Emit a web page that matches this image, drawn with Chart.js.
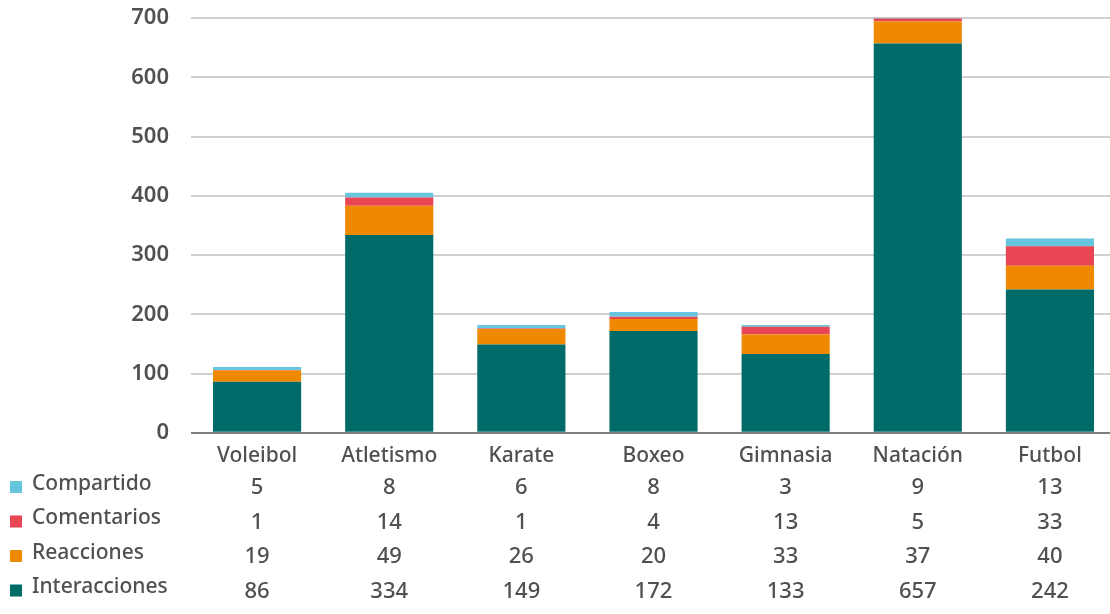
<!DOCTYPE html>
<html>
<head>
<meta charset="utf-8">
<script src="https://cdn.jsdelivr.net/npm/chart.js@4/dist/chart.umd.min.js"></script>
<style>
  html, body { margin: 0; padding: 0; background: #fff; overflow: hidden; }
  #wrap { width: 1116px; height: 614px; }
</style>
</head>
<body>
<div id="wrap"><canvas id="myChart"></canvas></div>
<script>
const deportes = ['Voleibol', 'Atletismo', 'Karate', 'Boxeo', 'Gimnasia', 'Natación', 'Futbol'];
const interacciones = [86, 334, 149, 172, 133, 657, 242];
const reacciones = [19, 49, 26, 20, 33, 37, 40];
const comentarios = [1, 14, 1, 4, 13, 5, 33];
const compartido = [5, 8, 6, 8, 3, 9, 13];
const yTicks = [0, 100, 200, 300, 400, 500, 600, 700];

const gris = '#505050';
const fuente = '"Noto Sans", sans-serif';

const series = [
  { label: 'Interacciones', data: interacciones, color: '#006b68' },
  { label: 'Reacciones', data: reacciones, color: '#ef8a00' },
  { label: 'Comentarios', data: comentarios, color: '#e84555' },
  { label: 'Compartido', data: compartido, color: '#66c6dd' }
];

// tabla de datos debajo del eje, filas de arriba hacia abajo
const filasTabla = [series[3], series[2], series[1], series[0]];

const tablaPlugin = {
  id: 'tablaDatos',
  afterDraw(chart) {
    const ctx = chart.ctx;
    const x = chart.scales.x;
    const top = 487;
    const paso = 34.5;
    ctx.save();
    ctx.textBaseline = 'middle';
    filasTabla.forEach((s, i) => {
      const y = top + i * paso;
      ctx.fillStyle = s.color;
      ctx.fillRect(10, y - 6, 12, 12);
      ctx.fillStyle = gris;
      ctx.font = '500 21px ' + fuente;
      ctx.textAlign = 'left';
      ctx.fillText(s.label, 32, y - 3);
      ctx.font = '500 22px ' + fuente;
      ctx.textAlign = 'center';
      s.data.forEach((v, j) => {
        ctx.fillText(String(v), x.getPixelForValue(j), y + 1);
      });
    });
    ctx.restore();
  }
};

new Chart(document.getElementById('myChart'), {
  type: 'bar',
  data: {
    labels: deportes,
    datasets: series.map(s => ({
      label: s.label,
      data: s.data,
      backgroundColor: s.color,
      borderWidth: 0,
      barPercentage: 0.667,
      categoryPercentage: 1
    }))
  },
  options: {
    responsive: true,
    maintainAspectRatio: false,
    animation: false,
    layout: { padding: { top: 0, right: 0, bottom: 142, left: 0 } },
    plugins: {
      legend: { display: false },
      tooltip: { enabled: false }
    },
    scales: {
      x: {
        stacked: true,
        grid: { display: false },
        border: { display: false },
        ticks: { color: gris, font: { family: fuente, size: 21, weight: '500' }, padding: 3 }
      },
      y: {
        stacked: true,
        min: 0,
        max: 700,
        afterBuildTicks: axis => { axis.ticks = yTicks.map(v => ({ value: v })); },
        afterFit: axis => {
          axis.width = 191;
          axis.paddingTop = 18;
          axis.paddingBottom = 0;
        },
        grid: {
          color: c => c.tick.value === 0 ? '#7f7f7f' : '#d0d0d0',
          lineWidth: 2,
          drawTicks: false
        },
        border: { display: false },
        ticks: { color: gris, font: { family: fuente, size: 22, weight: '600' }, padding: 22 }
      }
    }
  },
  plugins: [tablaPlugin]
});
</script>
</body>
</html>
